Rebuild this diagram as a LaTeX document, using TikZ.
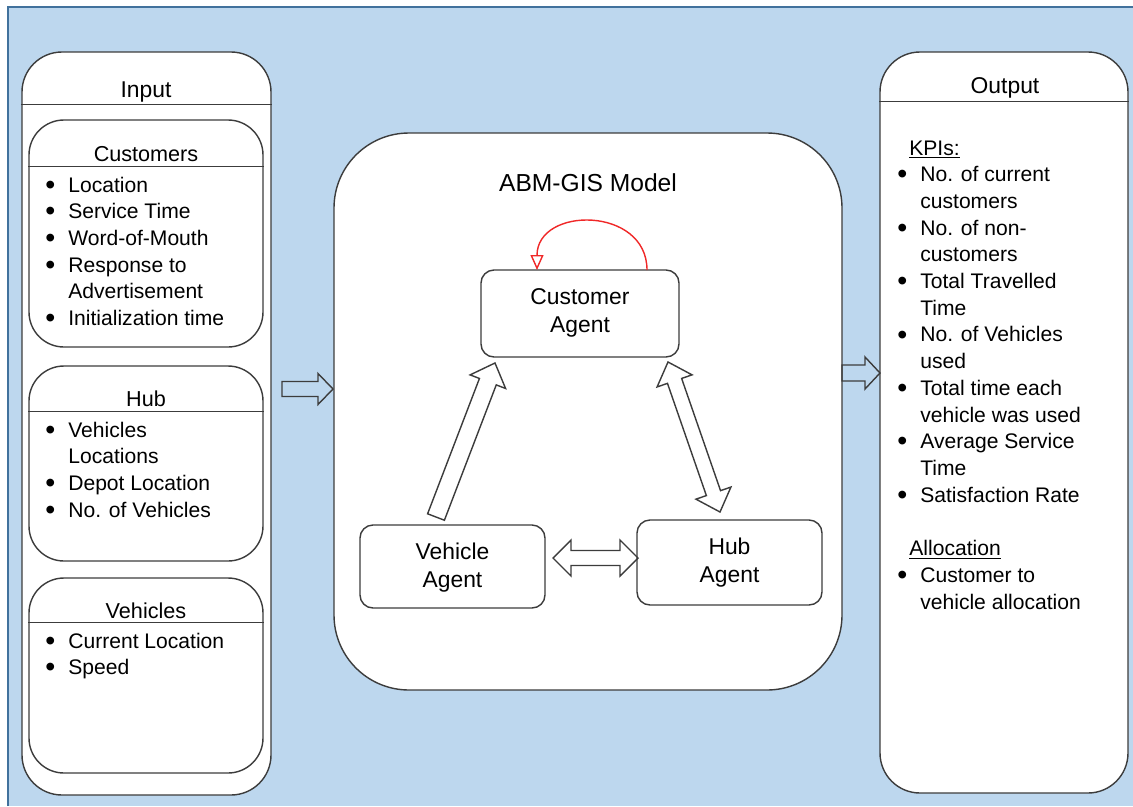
\documentclass[tikz,border=0pt]{standalone}
\usepackage{fontspec}
\setmainfont{Liberation Sans}
\usetikzlibrary{calc,fit,arrows.meta}
\definecolor{bgblue}{RGB}{189,215,238}
\definecolor{edgeblue}{RGB}{65,113,156}
\definecolor{ink}{RGB}{60,60,60}
\definecolor{loopred}{RGB}{240,40,40}

\newcommand{\bul}{\raisebox{-0.1em}{\scalebox{1.35}{\textbullet}}}

% single block arrow: #1 tail, #2 tip, #3 name, #4 shaft half width, #5 head half width, #6 head length
\newcommand{\singleblock}[6]{%
  \coordinate (#3hb) at ($(#2)!#6!(#1)$);
  \draw[blockarrow] ($(#1)!#4!90:(#2)$) -- ($(#3hb)!#4!90:(#2)$) -- ($(#3hb)!#5!90:(#2)$) -- (#2)
    -- ($(#3hb)!#5!-90:(#2)$) -- ($(#3hb)!#4!-90:(#2)$) -- ($(#1)!#4!-90:(#2)$) -- cycle;}
% double block arrow: #1 tip P, #2 tip Q, #3 name, #4 shaft half width, #5 head half width, #6 head length
\newcommand{\doubleblock}[6]{%
  \coordinate (#3ba) at ($(#1)!#6!(#2)$);
  \coordinate (#3bb) at ($(#2)!#6!(#1)$);
  \draw[blockarrow] (#1) -- ($(#3ba)!#5!90:(#2)$) -- ($(#3ba)!#4!90:(#2)$) -- ($(#3bb)!#4!-90:(#1)$)
    -- ($(#3bb)!#5!-90:(#1)$) -- (#2) -- ($(#3bb)!#5!90:(#1)$) -- ($(#3bb)!#4!90:(#1)$)
    -- ($(#3ba)!#4!-90:(#2)$) -- ($(#3ba)!#5!-90:(#2)$) -- cycle;}

\begin{document}
\begin{tikzpicture}[x=0.2mm,y=-0.2mm,
  box/.style={draw=ink, line width=0.8pt, fill=white, inner sep=0pt},
  panel/.style={box, rounded corners=8mm},
  subpanel/.style={box, rounded corners=7mm},
  model/.style={box, rounded corners=15mm},
  agent/.style={box, rounded corners=2.6mm},
  agenttext/.style={align=center, inner sep=0pt, font=\fontsize{13pt}{15.9pt}\selectfont},
  hline/.style={draw=ink, line width=0.8pt},
  bigtitle/.style={anchor=base, inner sep=0pt, font=\fontsize{13pt}{15pt}\selectfont},
  subtitle/.style={anchor=base, inner sep=0pt, font=\fontsize{12.3pt}{15pt}\selectfont},
  listtext/.style={anchor=base west, inner sep=0pt, align=left, font=\fontsize{12pt}{15.2pt}\selectfont},
  blockarrow/.style={draw=ink, line width=0.8pt, line join=miter},
  looparrow/.style={draw=loopred, line width=0.8pt, -{Triangle[open, length=3mm, width=2.6mm]}}
]
\useasboundingbox (0,0) rectangle (1133,806);
\fill[bgblue] (8,7) rectangle (1133,806);
\draw[edgeblue, line width=1.2pt] (8,806) -- (8,7) -- (1133,7);

% ---------- Input panel ----------
\node[panel, fit={(22,52) (271,795)}] (input) {};
\draw[hline] ($(input.north west)+(0,53)$) -- ($(input.north east)+(0,53)$);
\node[bigtitle] (tin) at (146,97) {Input};

\node[subpanel, fit={(29,120) (263,347)}] (cust) {};
\draw[hline] ($(cust.north west)+(0,47)$) -- ($(cust.north east)+(0,47)$);
\node[subtitle] (tcust) at (146,161) {Customers};
\node[listtext] (lcust) at (45,192) {\begin{tabular}[t]{@{}l@{\hspace{2.6mm}}l@{}}
\bul & Location\\
\bul & Service Time\\
\bul & Word-of-Mouth\\
\bul & Response to\\
 & Advertisement\\
\bul & Initialization time
\end{tabular}};

\node[subpanel, fit={(29,366) (263,561)}] (hubp) {};
\draw[hline] ($(hubp.north west)+(0,46)$) -- ($(hubp.north east)+(0,46)$);
\node[subtitle] (thub) at (146,406) {Hub};
\node[listtext] (lhub) at (45,437) {\begin{tabular}[t]{@{}l@{\hspace{2.6mm}}l@{}}
\bul & Vehicles\\
 & Locations\\
\bul & Depot Location\\
\bul & No. of Vehicles
\end{tabular}};

\node[subpanel, fit={(29,578) (263,773)}] (vehp) {};
\draw[hline] ($(vehp.north west)+(0,45)$) -- ($(vehp.north east)+(0,45)$);
\node[subtitle] (tveh) at (146,618) {Vehicles};
\node[listtext] (lveh) at (45,648) {\begin{tabular}[t]{@{}l@{\hspace{2.6mm}}l@{}}
\bul & Current Location\\
\bul & Speed
\end{tabular}};

% ---------- Model ----------
\node[model, fit={(334,133) (842,690)}] (model) {};
\node[anchor=base, inner sep=0pt, font=\fontsize{14pt}{16pt}\selectfont] (tmodel) at (588,191) {ABM-GIS Model};

\node[agent, fit={(481,270) (679,357)}] (custag) {};
\node[agent, fit={(360,525) (545,608)}] (vehag) {};
\node[agent, fit={(637,520) (822,605)}] (hubag) {};
\node[agenttext] (custagt) at ($(custag.center)+(0,-1)$) {Customer\\Agent};
\node[agenttext] (vehagt) at ($(vehag.center)+(0,1)$) {Vehicle\\Agent};
\node[agenttext] (hubagt) at ($(hubag.center)+(0,0)$) {Hub\\Agent};

% self loop on customer agent
\coordinate (lps) at (647,270);
\coordinate (lpe) at (537,270);
\draw[looparrow] (lps) .. controls (647,206) and (537,206) .. (lpe);

% block arrows between agents
\coordinate (vca) at (436,517);
\coordinate (vcb) at (495,363);
\singleblock{vca}{vcb}{vc}{1.8mm}{3.8mm}{4mm}

\coordinate (cha) at (668,362);
\coordinate (chb) at (720,512);
\doubleblock{cha}{chb}{ch}{1.5mm}{3.7mm}{4mm}

\coordinate (vha) at (553,558);
\coordinate (vhb) at (638,558);
\doubleblock{vha}{vhb}{vh}{1.5mm}{3.6mm}{3.6mm}

% ---------- Output panel ----------
\node[panel, fit={(880,52) (1128,793)}] (output) {};
\draw[hline] ($(output.north west)+(0,50)$) -- ($(output.north east)+(0,50)$);
\node[bigtitle] (tout) at (1005,93) {Output};
\node[listtext] (lout) at (897,155) {\begin{tabular}[t]{@{}l@{\hspace{2.6mm}}l@{}}
\multicolumn{2}{@{\hspace{2.4mm}}l@{}}{\underline{KPIs:}}\\
\bul & No. of current\\
 & customers\\
\bul & No. of non-\\
 & customers\\
\bul & Total Travelled\\
 & Time\\
\bul & No. of Vehicles\\
 & used\\
\bul & Total time each\\
 & vehicle was used\\
\bul & Average Service\\
 & Time\\
\bul & Satisfaction Rate\\
 & \\
\multicolumn{2}{@{\hspace{2.4mm}}l@{}}{\underline{Allocation}}\\
\bul & Customer to\\
 & vehicle allocation
\end{tabular}};

% ---------- Input / output arrows ----------
\coordinate (ina) at (282,389);
\coordinate (inb) at (333,389);
\singleblock{ina}{inb}{in}{1.5mm}{3.1mm}{3mm}

\coordinate (outa) at (842,373);
\coordinate (outb) at (880,373);
\singleblock{outa}{outb}{out}{1.6mm}{3.2mm}{3mm}
\end{tikzpicture}
\end{document}
